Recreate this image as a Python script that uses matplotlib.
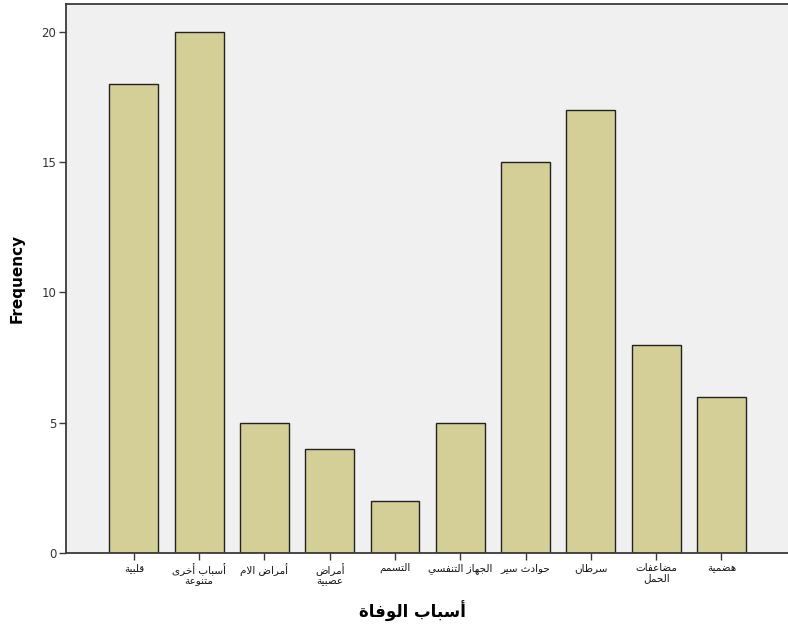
import numpy as np
import matplotlib
matplotlib.use('Agg')
import matplotlib.pyplot as plt

# data
causes = ['قلبية', 'أسباب أخرى\nمتنوعة', 'أمراض الام', 'أمراض\nعصبية', 'التسمم',
          'الجهاز التنفسي', 'حوادث سير', 'سرطان', 'مضاعفات\nالحمل', 'هضمية']
freq = [18, 20, 5, 4, 2, 5, 15, 17, 8, 6]
yticks = [0, 5, 10, 15, 20]

# minimal arabic shaping (presentation forms) + rtl reversal, no external libs
FORMS = {  # isolated, final, initial, medial
    'ء': (0xFE80,), 'آ': (0xFE81, 0xFE82), 'أ': (0xFE83, 0xFE84), 'ؤ': (0xFE85, 0xFE86),
    'إ': (0xFE87, 0xFE88), 'ئ': (0xFE89, 0xFE8A, 0xFE8B, 0xFE8C), 'ا': (0xFE8D, 0xFE8E),
    'ب': (0xFE8F, 0xFE90, 0xFE91, 0xFE92), 'ة': (0xFE93, 0xFE94),
    'ت': (0xFE95, 0xFE96, 0xFE97, 0xFE98), 'ث': (0xFE99, 0xFE9A, 0xFE9B, 0xFE9C),
    'ج': (0xFE9D, 0xFE9E, 0xFE9F, 0xFEA0), 'ح': (0xFEA1, 0xFEA2, 0xFEA3, 0xFEA4),
    'خ': (0xFEA5, 0xFEA6, 0xFEA7, 0xFEA8), 'د': (0xFEA9, 0xFEAA), 'ذ': (0xFEAB, 0xFEAC),
    'ر': (0xFEAD, 0xFEAE), 'ز': (0xFEAF, 0xFEB0), 'س': (0xFEB1, 0xFEB2, 0xFEB3, 0xFEB4),
    'ش': (0xFEB5, 0xFEB6, 0xFEB7, 0xFEB8), 'ص': (0xFEB9, 0xFEBA, 0xFEBB, 0xFEBC),
    'ض': (0xFEBD, 0xFEBE, 0xFEBF, 0xFEC0), 'ط': (0xFEC1, 0xFEC2, 0xFEC3, 0xFEC4),
    'ظ': (0xFEC5, 0xFEC6, 0xFEC7, 0xFEC8), 'ع': (0xFEC9, 0xFECA, 0xFECB, 0xFECC),
    'غ': (0xFECD, 0xFECE, 0xFECF, 0xFED0), 'ف': (0xFED1, 0xFED2, 0xFED3, 0xFED4),
    'ق': (0xFED5, 0xFED6, 0xFED7, 0xFED8), 'ك': (0xFED9, 0xFEDA, 0xFEDB, 0xFEDC),
    'ل': (0xFEDD, 0xFEDE, 0xFEDF, 0xFEE0), 'م': (0xFEE1, 0xFEE2, 0xFEE3, 0xFEE4),
    'ن': (0xFEE5, 0xFEE6, 0xFEE7, 0xFEE8), 'ه': (0xFEE9, 0xFEEA, 0xFEEB, 0xFEEC),
    'و': (0xFEED, 0xFEEE), 'ى': (0xFEEF, 0xFEF0), 'ي': (0xFEF1, 0xFEF2, 0xFEF3, 0xFEF4),
}
LAMALEF = {'ا': (0xFEFB, 0xFEFC), 'أ': (0xFEF7, 0xFEF8), 'آ': (0xFEF5, 0xFEF6), 'إ': (0xFEF9, 0xFEFA)}

def dual(c): return c in FORMS and len(FORMS[c]) == 4

def shape_line(s):
    # merge lam-alef first
    toks = []; i = 0
    while i < len(s):
        if s[i] == 'ل' and i + 1 < len(s) and s[i+1] in LAMALEF:
            toks.append(('LA', s[i+1])); i += 2
        else:
            toks.append(('C', s[i])); i += 1
    out = []
    for k, (kind, c) in enumerate(toks):
        prev = toks[k-1] if k > 0 else None
        nxt = toks[k+1] if k + 1 < len(toks) else None
        jp = prev is not None and prev[0] == 'C' and dual(prev[1])
        if kind == 'LA':
            out.append(chr(LAMALEF[c][1 if jp else 0])); continue
        if c not in FORMS:
            out.append(c); continue
        f = FORMS[c]
        jn = dual(c) and nxt is not None and (nxt[0] == 'LA' or nxt[1] in FORMS)
        if jp and jn: out.append(chr(f[3]))
        elif jp: out.append(chr(f[1]))
        elif jn: out.append(chr(f[2]))
        else: out.append(chr(f[0]))
    return ''.join(out)[::-1]

def ar(s): return '\n'.join(shape_line(l) for l in s.split('\n'))

BAR = '#d4cf96'; BG = '#f0f0f0'; EDGE = '#3a3a3a'
plt.rcParams['font.family'] = ['DejaVu Sans']

fig = plt.figure(figsize=(7.88, 6.33), dpi=100)
ax = fig.add_axes([66/788, 80/633, 722/788, 549/633])
ax.set_facecolor(BG)
x = np.arange(len(causes))
ax.bar(x, freq, width=0.75, color=BAR, edgecolor='#222222', linewidth=1.0, zorder=2)
ax.set_xlim(-1.04, 10.02)
ax.set_ylim(0, 21.07)
ax.set_yticks(yticks)
ax.set_yticklabels([str(v) for v in yticks], fontsize=8.5, color='#333333')
ax.set_xticks(x)
ax.set_xticklabels([ar(c) for c in causes], fontsize=7.5, color='#111111', linespacing=1.0)
ax.tick_params(axis='both', direction='out', length=5, width=1, color=EDGE, pad=2)
for sp in ['left', 'bottom', 'top']:
    ax.spines[sp].set_color(EDGE); ax.spines[sp].set_linewidth(1.3)
ax.spines['right'].set_visible(False)
ax.set_ylabel('Frequency', fontsize=11, fontweight='bold', labelpad=12)
ax.set_xlabel(ar('أسباب الوفاة'), fontsize=12, fontweight='bold', labelpad=13)
ax.xaxis.set_label_coords(0.48, -0.088)
fig.savefig('out.png', dpi=100, facecolor='white')
